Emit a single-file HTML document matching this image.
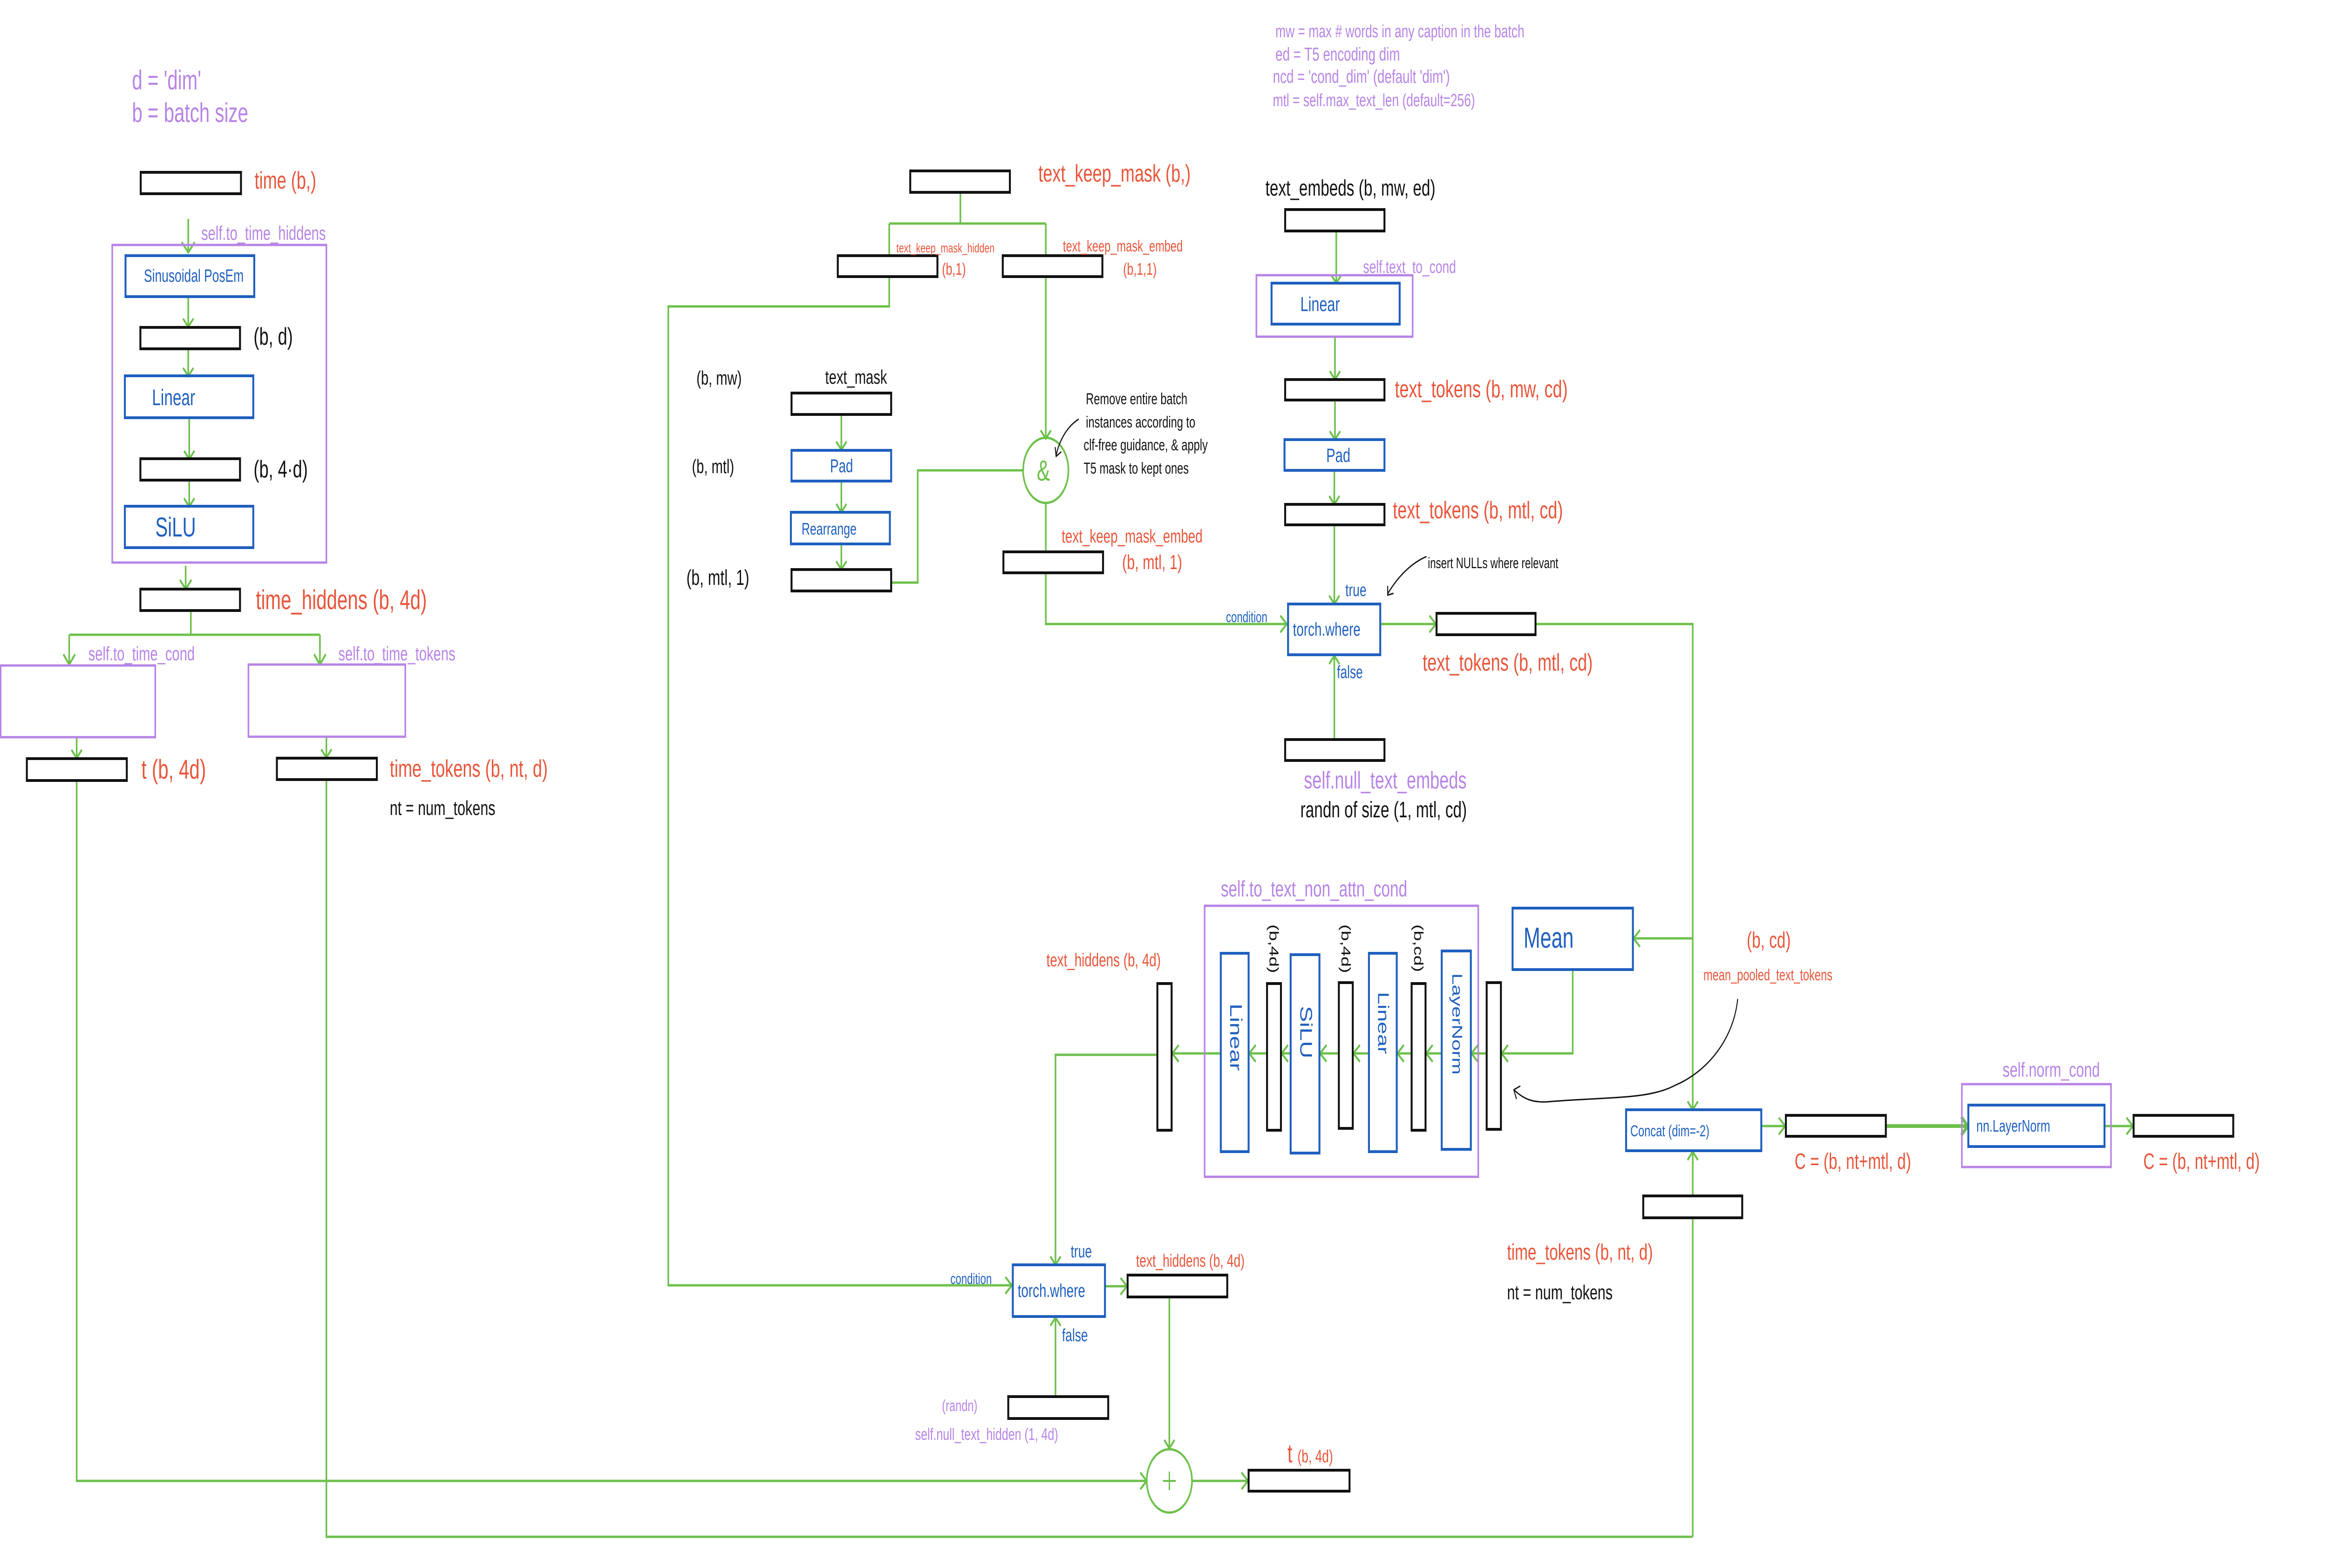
<!DOCTYPE html>
<html><head><meta charset="utf-8">
<style>
html,body{margin:0;padding:0;background:#fff;overflow:hidden;}
svg{display:block;position:fixed;left:0;top:0;width:100vw;height:100vh;}
text{font-family:"Liberation Sans",sans-serif;}
.r{fill:#e8553a}.p{fill:#b784e6}.b{fill:#1f5fbf}.k{fill:#111}
</style></head><body>
<svg viewBox="0 0 7200 3367" preserveAspectRatio="none" xmlns="http://www.w3.org/2000/svg">
<rect width="7200" height="3367" fill="#fff"/>
<g fill="none" stroke="#6cc04a" stroke-width="5">
<path d="M582 470V540 M562 520l20 22 20-22"/>
<path d="M582 637V700 M566 684l16 18 16-18"/>
<path d="M582 749V805 M566 790l16 18 16-18"/>
<path d="M585 897V983 M569 968l16 18 16-18"/>
<path d="M585 1031V1085 M569 1070l16 18 16-18"/>
<path d="M574 1215V1262 M556 1245l18 20 18-20"/>
<path d="M590 1311V1363 M214 1363H989 M214 1363V1427 M989 1363V1425 M196 1405l18 22 18-22 M971 1405l18 22 18-22"/>
<path d="M237 1583V1627 M221 1610l16 18 16-18 M1009 1582V1626 M993 1609l16 18 16-18"/>
<path d="M237 1676V3180H3545 M3525 3162l20 18-20 18"/>
<path d="M1009 1674V3300H5233"/>
<path d="M2969 413V480 M2749 480H3233 M2749 480V549 M3233 480V549"/>
<path d="M2749 594V658H2066V2760H3128 M3108 2742l20 18-20 18"/>
<path d="M3233 594V940 M3217 924l16 18 16-18"/>
<path d="M3233 1080V1185 M3233 1230V1340H3978 M3958 1322l20 18-20 18"/>
<path d="M2601 890V965 M2585 948l16 18 16-18"/>
<path d="M2601 1033V1098 M2585 1082l16 18 16-18"/>
<path d="M2601 1168V1221 M2585 1205l16 18 16-18"/>
<path d="M2755 1251H2837V1010H3163"/>
<path d="M4131 496V606 M4115 590l16 18 16-18"/>
<path d="M4127 723V813 M4111 797l16 18 16-18"/>
<path d="M4127 859V942 M4111 926l16 18 16-18"/>
<path d="M4125 1010V1081 M4109 1065l16 18 16-18"/>
<path d="M4125 1127V1295 M4109 1279l16 18 16-18"/>
<path d="M4125 1588V1408 M4109 1426l16-18 16 18"/>
<path d="M4267 1340H4439 M4419 1322l20 18-20 18"/>
<path d="M4747 1340H5233V2381 M5217 2365l16 18 16-18"/>
<path d="M5233 2015H5050 M5070 1997l-20 18 20 18"/>
<path d="M5233 3300V2473 M5217 2491l16-18 16 18"/>
<path d="M4862 2082V2262H4642 M4662 2244l-20 18 20 18"/>
<path d="M4596 2262H4549 M4569 2244l-20 18 20 18"/>
<path d="M4457 2262H4409 M4429 2244l-20 18 20 18"/>
<path d="M4364 2262H4320 M4340 2244l-20 18 20 18"/>
<path d="M4232 2262H4184 M4204 2244l-20 18 20 18"/>
<path d="M4139 2262H4081 M4101 2244l-20 18 20 18"/>
<path d="M3990 2262H3962 M3982 2244l-20 18 20 18"/>
<path d="M3917 2262H3862 M3882 2244l-20 18 20 18"/>
<path d="M3774 2262H3624 M3644 2244l-20 18 20 18"/>
<path d="M3578 2265H3263V2714 M3247 2698l16 18 16-18"/>
<path d="M3263 2999V2829 M3247 2847l16-18 16 18"/>
<path d="M3416 2762H3484 M3464 2744l20 18-20 18"/>
<path d="M3615 2785V3108 M3599 3092l16 18 16-18"/>
<path d="M3685 3180H3858 M3838 3162l20 18-20 18"/>
<path d="M5445 2418H5519 M5499 2400l20 18-20 18"/>
<path d="M5830 2418H6083 M6063 2398l20 20-20 20" stroke-width="8"/>
<path d="M6506 2418H6594 M6574 2400l20 18-20 18"/>
<circle cx="3233" cy="1010" r="70"/>
<ellipse cx="3615" cy="3180" rx="70" ry="68"/>
<path d="M3615 3160v40 M3595 3180h40" stroke-width="4"/>
</g>
<g fill="none" stroke="#b784e6" stroke-width="5">
<rect x="347" y="526" width="662" height="682"/>
<rect x="2" y="1429" width="478" height="154"/>
<rect x="768" y="1427" width="485" height="155"/>
<rect x="3884" y="591" width="483" height="132"/>
<rect x="3724" y="1945" width="846" height="582"/>
<rect x="6065" y="2328" width="461" height="178"/>
</g>
<g fill="none" stroke="#1f5fbf" stroke-width="6">
<rect x="388" y="549" width="398" height="88"/>
<rect x="386" y="807" width="397" height="90"/>
<rect x="386" y="1087" width="397" height="89"/>
<rect x="2447" y="967" width="308" height="66"/>
<rect x="2445" y="1100" width="306" height="68"/>
<rect x="3931" y="608" width="396" height="88"/>
<rect x="3971" y="944" width="309" height="66"/>
<rect x="3982" y="1297" width="285" height="109"/>
<rect x="3774" y="2047" width="86" height="426"/>
<rect x="3990" y="2050" width="89" height="426"/>
<rect x="4232" y="2047" width="86" height="426"/>
<rect x="4457" y="2042" width="90" height="426"/>
<rect x="4676" y="1950" width="372" height="132"/>
<rect x="5027" y="2383" width="418" height="88"/>
<rect x="6085" y="2373" width="421" height="89"/>
<rect x="3131" y="2716" width="285" height="111"/>
</g>
<g fill="#fff" stroke="#111" stroke-width="6">
<rect x="435" y="370" width="310" height="46"/>
<rect x="434" y="703" width="308" height="46"/>
<rect x="434" y="985" width="308" height="46"/>
<rect x="434" y="1265" width="308" height="46"/>
<rect x="83" y="1629" width="309" height="47"/>
<rect x="856" y="1628" width="309" height="46"/>
<rect x="2814" y="367" width="308" height="46"/>
<rect x="2590" y="549" width="308" height="45"/>
<rect x="3100" y="549" width="308" height="45"/>
<rect x="2447" y="844" width="308" height="46"/>
<rect x="2447" y="1223" width="308" height="46"/>
<rect x="3102" y="1185" width="308" height="45"/>
<rect x="3973" y="450" width="307" height="46"/>
<rect x="3973" y="815" width="307" height="44"/>
<rect x="3973" y="1083" width="307" height="44"/>
<rect x="4441" y="1317" width="306" height="46"/>
<rect x="3973" y="1588" width="307" height="45"/>
<rect x="3578" y="2112" width="44" height="315"/>
<rect x="3917" y="2112" width="43" height="315"/>
<rect x="4139" y="2110" width="43" height="313"/>
<rect x="4364" y="2112" width="43" height="315"/>
<rect x="4596" y="2110" width="44" height="315"/>
<rect x="5080" y="2568" width="306" height="47"/>
<rect x="5521" y="2395" width="309" height="45"/>
<rect x="6596" y="2395" width="308" height="45"/>
<rect x="3486" y="2738" width="308" height="47"/>
<rect x="3117" y="2999" width="309" height="47"/>
<rect x="3860" y="3157" width="312" height="45"/>
</g>
<g fill="none" stroke="#111" stroke-width="3">
<path d="M3335 900 C3300 915 3275 945 3265 978 M3262 960l3 20 16-10"/>
<path d="M4410 1195 C4360 1210 4320 1240 4290 1275 M4290 1258l0 20 18-4"/>
<path d="M5372 2145 C5360 2230 5280 2300 5180 2330 C5100 2360 4990 2355 4800 2365 C4740 2370 4710 2360 4680 2340 M4700 2332l-20 8 8 20"/>
</g>
<g font-size="52">
<text x="408" y="192" class="p" font-size="58">d = 'dim'</text>
<text x="408" y="262" class="p" font-size="58">b = batch size</text>
<text x="787" y="405" class="r">time   (b,)</text>
<text x="622" y="515" class="p" font-size="42">self.to_time_hiddens</text>
<text x="445" y="605" class="b" font-size="38">Sinusoidal PosEm</text>
<text x="784" y="740" class="k">(b, d)</text>
<text x="470" y="870" class="b" font-size="48">Linear</text>
<text x="784" y="1025" class="k">(b, 4·d)</text>
<text x="480" y="1152" class="b" font-size="58">SiLU</text>
<text x="791" y="1308" class="r" font-size="58">time_hiddens (b, 4d)</text>
<text x="273" y="1418" class="p" font-size="42">self.to_time_cond</text>
<text x="1046" y="1418" class="p" font-size="42">self.to_time_tokens</text>
<text x="437" y="1672" class="r" font-size="58">t  (b, 4d)</text>
<text x="1205" y="1668" class="r" font-size="52">time_tokens (b, nt, d)</text>
<text x="1205" y="1750" class="k" font-size="44">nt = num_tokens</text>
<text x="3943" y="80" class="p" font-size="38">mw = max # words in any caption in the batch</text>
<text x="3943" y="130" class="p" font-size="40">ed = T5 encoding dim</text>
<text x="3935" y="178" class="p" font-size="40">ncd = 'cond_dim' (default 'dim')</text>
<text x="3935" y="228" class="p" font-size="38">mtl = self.max_text_len (default=256)</text>
<text x="3210" y="390" class="r" font-size="52">text_keep_mask  (b,)</text>
<text x="2771" y="542" class="r" font-size="28">text_keep_mask_hidden</text>
<text x="2912" y="590" class="r" font-size="36">(b,1)</text>
<text x="3286" y="540" class="r" font-size="34">text_keep_mask_embed</text>
<text x="3472" y="590" class="r" font-size="36">(b,1,1)</text>
<text x="2153" y="826" class="k" font-size="42">(b, mw)</text>
<text x="2551" y="824" class="k" font-size="42">text_mask</text>
<text x="2139" y="1016" class="k" font-size="42">(b, mtl)</text>
<text x="2566" y="1014" class="b" font-size="40">Pad</text>
<text x="2478" y="1148" class="b" font-size="36">Rearrange</text>
<text x="2122" y="1256" class="k" font-size="46">(b, mtl, 1)</text>
<text x="3205" y="1032" font-size="62" style="fill:#6cc04a">&amp;</text>
<text x="3357" y="868" class="k" font-size="34">Remove entire batch</text>
<text x="3357" y="918" class="k" font-size="34">instances according to</text>
<text x="3350" y="967" class="k" font-size="34">clf-free guidance, &amp; apply</text>
<text x="3350" y="1017" class="k" font-size="34">T5 mask to kept ones</text>
<text x="3282" y="1165" class="r" font-size="40">text_keep_mask_embed</text>
<text x="3469" y="1222" class="r" font-size="44">(b, mtl, 1)</text>
<text x="3912" y="420" class="k" font-size="48">text_embeds  (b, mw, ed)</text>
<text x="4214" y="586" class="p" font-size="38">self.text_to_cond</text>
<text x="4020" y="668" class="b" font-size="44">Linear</text>
<text x="4312" y="853" class="r" font-size="52">text_tokens (b, mw, cd)</text>
<text x="4100" y="992" class="b" font-size="42">Pad</text>
<text x="4306" y="1113" class="r" font-size="52">text_tokens (b, mtl, cd)</text>
<text x="4159" y="1280" class="b" font-size="38">true</text>
<text x="3790" y="1336" class="b" font-size="32">condition</text>
<text x="3997" y="1365" class="b" font-size="40">torch.where</text>
<text x="4133" y="1456" class="b" font-size="38">false</text>
<text x="4414" y="1220" class="k" font-size="32">insert NULLs where relevant</text>
<text x="4398" y="1440" class="r" font-size="52">text_tokens (b, mtl, cd)</text>
<text x="4031" y="1693" class="p" font-size="52">self.null_text_embeds</text>
<text x="4020" y="1755" class="k" font-size="48">randn of size (1, mtl, cd)</text>
<text x="3774" y="1925" class="p" font-size="48">self.to_text_non_attn_cond</text>
<text x="3235" y="2075" class="r" font-size="40">text_hiddens (b, 4d)</text>
<text x="4710" y="2035" class="b" font-size="62">Mean</text>
<text x="5400" y="2035" class="r" font-size="48">(b, cd)</text>
<text x="5266" y="2105" class="r" font-size="34">mean_pooled_text_tokens</text>
<text transform="translate(3803,2155) rotate(90)" class="b" font-size="52">Linear</text>
<text transform="translate(4020,2160) rotate(90)" class="b" font-size="52">SiLU</text>
<text transform="translate(4260,2130) rotate(90)" class="b" font-size="48">Linear</text>
<text transform="translate(4490,2090) rotate(90)" class="b" font-size="44">LayerNorm</text>
<text transform="translate(3925,1985) rotate(90)" class="k" font-size="40">(b,4d)</text>
<text transform="translate(4147,1985) rotate(90)" class="k" font-size="40">(b,4d)</text>
<text transform="translate(4372,1985) rotate(90)" class="k" font-size="40">(b,cd)</text>
<text x="5040" y="2440" class="b" font-size="34">Concat (dim=-2)</text>
<text x="5548" y="2510" class="r" font-size="48">C = (b, nt+mtl, d)</text>
<text x="6191" y="2312" class="p" font-size="44">self.norm_cond</text>
<text x="6110" y="2430" class="b" font-size="36">nn.LayerNorm</text>
<text x="6626" y="2510" class="r" font-size="48">C = (b, nt+mtl, d)</text>
<text x="4659" y="2705" class="r" font-size="48">time_tokens (b, nt, d)</text>
<text x="4659" y="2790" class="k" font-size="44">nt = num_tokens</text>
<text x="3310" y="2700" class="b" font-size="38">true</text>
<text x="2938" y="2757" class="b" font-size="32">condition</text>
<text x="3146" y="2785" class="b" font-size="40">torch.where</text>
<text x="3283" y="2880" class="b" font-size="38">false</text>
<text x="3512" y="2720" class="r" font-size="38">text_hiddens   (b, 4d)</text>
<text x="2912" y="3030" class="p" font-size="34">(randn)</text>
<text x="2829" y="3092" class="p" font-size="36">self.null_text_hidden  (1, 4d)</text>
<text x="3980" y="3140" class="r" font-size="56">t <tspan font-size="38">(b, 4d)</tspan></text>
</g>
</svg>
</body></html>
